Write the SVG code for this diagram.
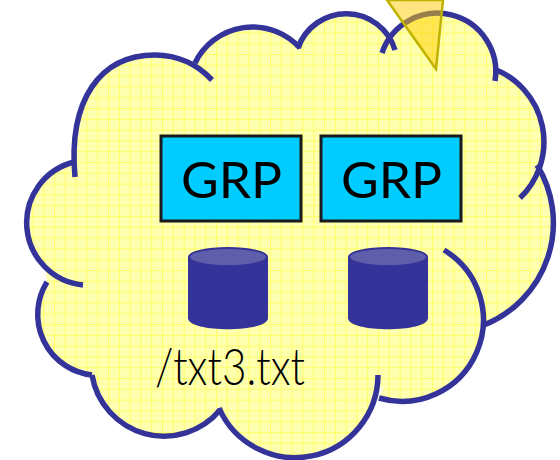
<svg xmlns="http://www.w3.org/2000/svg" width="560" height="460" viewBox="0 0 560 460">
<style>
.c{fill:none;stroke:#333399;stroke-width:5.5}
.b{fill:#00ccff;stroke:#1a1a1a;stroke-width:3}
.t{font-family:Lato,"Open Sans",sans-serif;fill:#000}
.d{fill:#333399}
.e{fill:#5e5eab;stroke:#333399;stroke-width:2}
</style>
<defs>
<pattern id="g" width="10.8" height="10.8" patternUnits="userSpaceOnUse">
<rect width="10.8" height="10.8" fill="#ffffb0"/>
<path d="M0 .5H10.8M.5 0V10.8" stroke="#ffff66" stroke-width="1" fill="none"/>
</pattern>
</defs>
<g id="cloud">
<path fill="url(#g)" d="M75 177C68 100 100 55 155 55C178 55 198 65 212 80ZM195 63A64 64 0 0 1 300 48ZM298 48A51 51 0 0 1 395 50ZM382 53A58.4 58.4 0 0 1 495 81ZM494 69A78 78 0 0 1 520 198ZM537 165A110 110 0 0 1 484 325ZM444 250A81.5 81.5 0 0 1 379 398ZM378 375A83 83 0 0 1 219 408ZM220 410A73 73 0 0 1 92 375ZM92 375A61 61 0 0 1 47 282ZM83 285A62.6 62.6 0 0 1 74 162ZM75 177L100 90L195 63L250 40L300 48L347 30L382 53L440 30L495 81L530 130L537 165L530 260L484 325L470 340L378 390L300 440L219 408L150 420L92 375L55 330L47 282L40 225Z"/>
<path class="c" d="M75 177C68 100 100 55 155 55C178 55 198 65 212 80"/>
<path class="c" d="M195 63A64 64 0 0 1 300 48"/>
<path class="c" d="M298 48A51 51 0 0 1 395 50"/>
<path class="c" d="M382 53A58.4 58.4 0 0 1 495 81"/>
<path class="c" d="M494 69A78 78 0 0 1 520 198"/>
<path class="c" d="M537 165A110 110 0 0 1 484 325"/>
<path class="c" d="M444 250A81.5 81.5 0 0 1 379 398"/>
<path class="c" d="M378 375A83 83 0 0 1 219 408"/>
<path class="c" d="M220 410A73 73 0 0 1 92 375"/>
<path class="c" d="M92 375A61 61 0 0 1 47 282"/>
<path class="c" d="M83 285A62.6 62.6 0 0 1 74 162"/>
</g>
<g id="beam">
<path d="M387 0L436 69L443 0Z" fill="#ffcc00" fill-opacity=".5" stroke="#bfb300" stroke-width="2.5"/>
</g>
<g id="grp1">
<rect class="b" x="161" y="136" width="140" height="85"/>
<text class="t" x="181" y="198" font-size="51" textLength="101" lengthAdjust="spacingAndGlyphs">GRP</text>
</g>
<g id="grp2">
<rect class="b" x="321" y="136" width="140" height="85"/>
<text class="t" x="341" y="198" font-size="51" textLength="101" lengthAdjust="spacingAndGlyphs">GRP</text>
</g>
<g id="db1">
<path class="d" d="M188 257V318C188 333 268 333 268 318V257Z"/>
<ellipse class="e" cx="228" cy="257" rx="39" ry="9"/>
</g>
<g id="db2">
<path class="d" d="M348 257V318C348 333 428 333 428 318V257Z"/>
<ellipse class="e" cx="388" cy="257" rx="39" ry="9"/>
</g>
<g id="label">
<text class="t" x="155" y="385" font-size="52" font-weight="300" textLength="150" lengthAdjust="spacingAndGlyphs">/txt3.txt</text>
</g>
</svg>
